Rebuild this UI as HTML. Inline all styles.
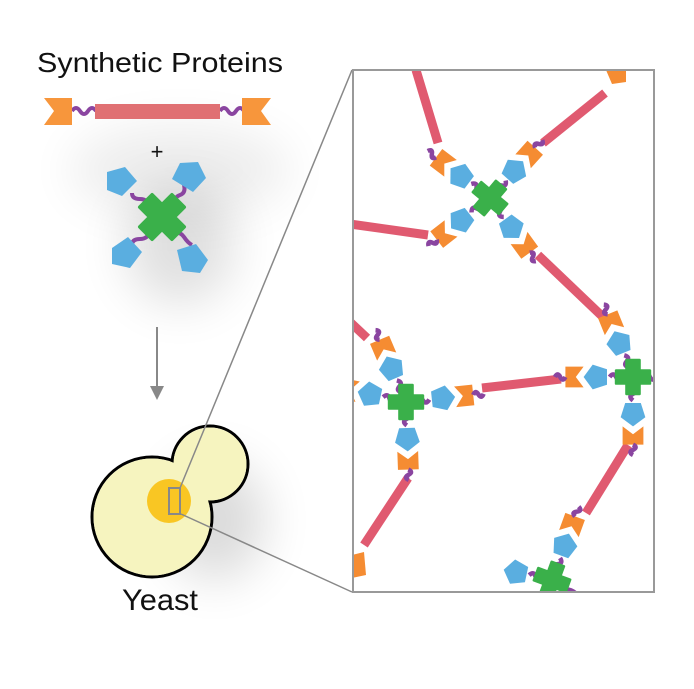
<!DOCTYPE html>
<html><head><meta charset="utf-8"><style>
html,body{margin:0;padding:0;background:#fff;}
svg{display:block;}
</style></head><body>
<svg width="694" height="689" viewBox="0 0 694 689" xmlns="http://www.w3.org/2000/svg">
<defs>
<filter id="bl" x="-50%" y="-50%" width="200%" height="200%"><feGaussianBlur stdDeviation="24"/></filter>
<clipPath id="pc"><rect x="353" y="71" width="301" height="521"/></clipPath>
<polygon id="pent" points="10,0 3,-9.5 -8,-6 -8,6 3,9.5" fill="#5aaee0"/>
<path id="xs" d="M-5,-13 L5,-13 L5,-5 L13,-5 L13,5 L5,5 L5,13 L-5,13 L-5,5 L-13,5 L-13,-5 L-5,-5Z" fill="#3ab04a" stroke="#3ab04a" stroke-width="2" stroke-linejoin="round"/>
<g id="arm">
<path d="M8,0 q3,-4 5,0 t5,0" stroke="#8a45a0" stroke-width="3.5" fill="none"/>
<use href="#pent" transform="translate(28,0)"/>
<polygon points="38,-8 52,-8 52,8 38,8 44,0" fill="#f58c32"/>
<path d="M52,0 q2,-4 4,0 t4,0" stroke="#8a45a0" stroke-width="3.5" fill="none"/>
</g>
<g id="arm0">
<path d="M8,0 q3,-4 5,0 t5,0" stroke="#8a45a0" stroke-width="3.5" fill="none"/>
<use href="#pent" transform="translate(28,0)"/>
</g>
</defs>

<ellipse cx="180" cy="170" rx="110" ry="45" fill="#000" opacity="0.07" filter="url(#bl)"/>
<ellipse cx="180" cy="245" rx="55" ry="60" fill="#000" opacity="0.12" filter="url(#bl)"/>
<ellipse cx="215" cy="520" rx="50" ry="60" fill="#000" opacity="0.14" filter="url(#bl)"/>

<text x="37" y="72" font-family="Liberation Sans, sans-serif" font-size="28" fill="#111" textLength="246" lengthAdjust="spacingAndGlyphs">Synthetic Proteins</text>

<path d="M72,111 q4,-6 8,0 t8,0 t8,0" stroke="#8a45a0" stroke-width="4" fill="none"/>
<path d="M220,111 q4,-6 8,0 t8,0 t8,0" stroke="#8a45a0" stroke-width="4" fill="none"/>
<rect x="95" y="104" width="125" height="15" fill="#e07073"/>
<polygon points="44,98 72,98 72,125 44,125 54,111" fill="#f7963c"/>
<polygon points="242,98 271,98 261,111 271,125 242,125" fill="#f7963c"/>

<text x="157" y="159" font-family="Liberation Sans, sans-serif" font-size="22" fill="#111" text-anchor="middle">+</text>

<g transform="translate(162,217)">
<path d="M-14,-10 q0,-8 -8,-8 t-8,-6" stroke="#8a45a0" stroke-width="4" fill="none"/>
<path d="M12,-12 q0,-8 6,-10 t4,-10" stroke="#8a45a0" stroke-width="4" fill="none"/>
<path d="M-12,14 q-2,8 -10,8 t-8,6" stroke="#8a45a0" stroke-width="4" fill="none"/>
<path d="M10,16 q8,-2 12,4 t8,8" stroke="#8a45a0" stroke-width="4" fill="none"/>
<g transform="rotate(45) scale(1.75)"><use href="#xs"/></g>
</g>
<polygon points="107,172 125,167 137,181 122,196 107,190" fill="#5aaee0"/>
<polygon points="180,163 198,162 206,178 193,192 172,179" fill="#5aaee0"/>
<polygon points="112,248 128,237 142,252 130,268 112,264" fill="#5aaee0"/>
<polygon points="177,250 196,244 208,260 200,273 182,271" fill="#5aaee0"/>

<line x1="157" y1="327" x2="157" y2="392" stroke="#888" stroke-width="2"/>
<polygon points="150,386 164,386 157,400" fill="#888"/>

<circle cx="210" cy="464" r="38" fill="none" stroke="#000" stroke-width="3"/>
<circle cx="152" cy="517" r="60" fill="none" stroke="#000" stroke-width="3"/>
<circle cx="210" cy="464" r="36.5" fill="#f6f4bf"/>
<circle cx="152" cy="517" r="58.5" fill="#f6f4bf"/>
<circle cx="169" cy="501" r="22" fill="#f9c623"/>
<rect x="169" y="488" width="11" height="26" fill="none" stroke="#888" stroke-width="2"/>
<line x1="180" y1="488" x2="352" y2="70" stroke="#888" stroke-width="1.5"/>
<line x1="181" y1="514" x2="352" y2="592" stroke="#888" stroke-width="1.5"/>
<text x="122" y="610" font-family="Liberation Sans, sans-serif" font-size="30" fill="#111" textLength="76" lengthAdjust="spacingAndGlyphs">Yeast</text>

<rect x="353" y="70" width="301" height="522" fill="#fff"/>
<g clip-path="url(#pc)">
<g stroke="#e05a70" stroke-width="9">
<line x1="416" y1="70" x2="438" y2="143"/>
<line x1="605" y1="93" x2="543" y2="143"/>
<line x1="350" y1="224" x2="428" y2="235"/>
<line x1="538" y1="255" x2="604" y2="318"/>
<line x1="350" y1="322" x2="367" y2="338"/>
<line x1="482" y1="388" x2="561" y2="379"/>
<line x1="628" y1="445" x2="586" y2="513"/>
<line x1="408" y1="478" x2="364" y2="545"/>
</g>
<polygon points="606,70 626,70 626,82 612,84" fill="#f58c32"/>
<polygon points="352,555 364,552 366,575 352,578" fill="#f58c32"/>
<g transform="translate(490,198)"><g transform="scale(1.3)">
<use href="#arm" transform="rotate(-143)"/><use href="#arm" transform="rotate(-48)"/>
<use href="#arm" transform="rotate(142)"/><use href="#arm" transform="rotate(54)"/>
<use href="#xs" transform="rotate(40)"/>
</g></g>
<g transform="translate(406,402)"><g transform="scale(1.3)">
<use href="#arm" transform="rotate(-113)"/><use href="#arm" transform="rotate(-168)"/>
<use href="#arm" transform="rotate(-6)"/><use href="#arm" transform="rotate(88)"/>
<use href="#xs"/>
</g></g>
<g transform="translate(633,377)"><g transform="scale(1.3)">
<use href="#arm" transform="rotate(180)"/><use href="#arm" transform="rotate(-112)"/>
<use href="#arm" transform="rotate(90)"/>
<path d="M8,0 q3,-4 5,0 t5,0" stroke="#8a45a0" stroke-width="3.5" fill="none"/>
<use href="#xs"/>
</g></g>
<g transform="translate(552,580)"><g transform="scale(1.3)">
<use href="#arm" transform="rotate(-70)"/><use href="#arm0" transform="rotate(-168)"/>
<path d="M8,8 q5,-2 10,2 t10,0" stroke="#8a45a0" stroke-width="3.5" fill="none"/>
<use href="#xs" transform="rotate(20)"/>
</g></g>
</g>
<rect x="353" y="70" width="301" height="522" fill="none" stroke="#999" stroke-width="2"/>
</svg>
</body></html>
